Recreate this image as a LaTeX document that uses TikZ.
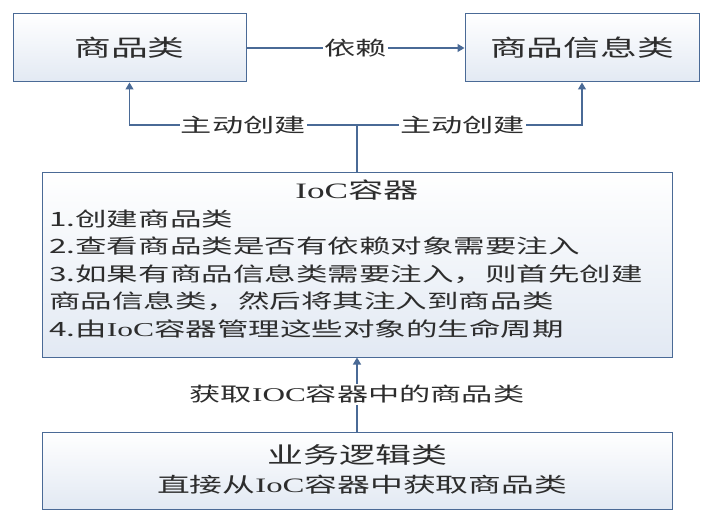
\documentclass[tikz,border=0pt]{standalone}
\usepackage{fontspec}
\usetikzlibrary{arrows.meta,positioning}
\newfontfamily\cjk[FakeStretch=1.6]{Noto Sans CJK SC}
\newfontfamily\lat[FakeStretch=1.6]{Liberation Serif}
\definecolor{boxline}{RGB}{74,106,150}
\definecolor{boxfill}{RGB}{226,233,243}
\definecolor{txt}{RGB}{45,45,45}
\newcommand{\ioc}{{\lat IoC}}

\begin{document}
\begin{tikzpicture}[%
    x=1pt, y=-1pt,
    classbox/.style={draw=boxline, line width=1pt, top color=white, bottom color=boxfill, inner sep=0pt},
    link/.style={draw=boxline, line width=1.2pt, -{Triangle[length=7pt,width=8pt]}},
    tag/.style={fill=white, inner sep=1pt, text=txt, font=\cjk\fontsize{19.5}{22}\selectfont},
    every node/.style={text=txt},
    ]
    \useasboundingbox (0,0) rectangle (704,516);
    \node[classbox, minimum width=233pt, minimum height=68pt] (goods) at (129.5,48) {};
    \node[classbox, minimum width=234pt, minimum height=68pt] (info) at (582,48) {};
    \node[classbox, minimum width=630pt, minimum height=185pt] (ioc) at (357,264.5) {};
    \node[classbox, minimum width=630pt, minimum height=77pt] (biz) at (357,470.5) {};
    \node[font=\cjk\fontsize{23}{26}\selectfont] (goodsName) at (goods.center) {商品类};
    \node[font=\cjk\fontsize{23}{26}\selectfont] (infoName) at (info.center) {商品信息类};
    \node[font=\cjk\fontsize{22}{26}\selectfont] (iocName) at (357,190) {\ioc 容器};
    \node[font=\cjk\fontsize{19.7}{27.5}\selectfont, align=left, anchor=north west, inner sep=0pt] (iocSteps) at (49,209.5) {%
        1.创建商品类\\
        2.查看商品类是否有依赖对象需要注入\\
        3.如果有商品信息类需要注入，则首先创建\\
        商品信息类，然后将其注入到商品类\\
        4.由\ioc 容器管理这些对象的生命周期};
    \node[font=\cjk\fontsize{22.5}{26}\selectfont] (bizName) at (357,455) {业务逻辑类};
    \node[font=\cjk\fontsize{20.5}{24}\selectfont] (bizNote) at (362,485) {直接从\ioc 容器中获取商品类};
    % connectors
    \coordinate (split) at (ioc.north |- 0,125);
    \draw[link] (goods.east) -- node[tag] {依赖} (info.west);
    \draw[draw=boxline, line width=1.2pt] (ioc.north) -- (split);
    \draw[link] (split) -| node[tag, pos=0.25] {主动创建} (goods.south);
    \draw[link] (split) -| node[tag, pos=0.235] {主动创建} (info.south);
    \draw[link] (biz.north) -- node[tag] {获取{\lat IOC}容器中的商品类} (ioc.south);
\end{tikzpicture}
\end{document}
